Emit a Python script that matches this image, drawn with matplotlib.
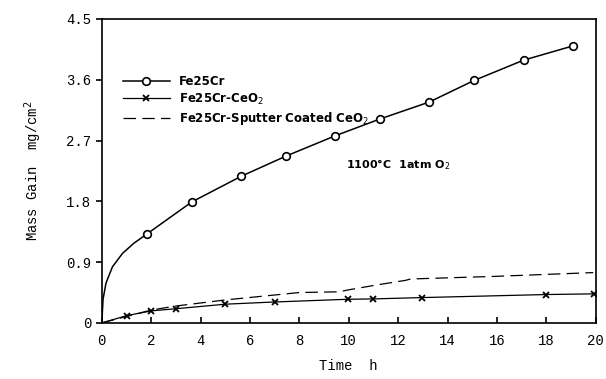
import numpy as np
import matplotlib.pyplot as plt

# Fe25Cr: early curve points (no markers) then measured points (circles)
fe_t = [0, 0.05, 0.17, 0.43, 0.84, 1.3, 1.84, 3.64, 5.64, 7.46, 9.45, 11.27, 13.26, 15.08, 17.08, 19.07]
fe_m = [0, 0.35, 0.59, 0.83, 1.03, 1.18, 1.32, 1.79, 2.17, 2.47, 2.77, 3.02, 3.27, 3.59, 3.89, 4.10]
fe_marks = list(range(6, len(fe_t)))

# Fe25Cr-CeO2
ce_t = [0, 1.01, 2.0, 3.0, 5.0, 7.0, 9.98, 10.97, 12.97, 17.99, 19.95]
ce_m = [0, 0.108, 0.178, 0.21, 0.277, 0.31, 0.35, 0.355, 0.375, 0.42, 0.43]

# Fe25Cr-Sputter coated CeO2
sp_t = [0, 2.0, 3.0, 5.0, 8.0, 9.6, 10.0, 11.1, 12.3, 12.5, 16.0, 19.9]
sp_m = [0, 0.19, 0.25, 0.34, 0.45, 0.46, 0.49, 0.56, 0.63, 0.65, 0.69, 0.745]

x_ticks = np.arange(0, 21, 2)
y_ticks = [0, 0.9, 1.8, 2.7, 3.6, 4.5]
y_labels = ['0', '0.9', '1.8', '2.7', '3.6', '4.5']

mono = 'Liberation Mono'
leg_font = {'family': 'DejaVu Sans Condensed', 'weight': 'bold', 'size': 8.5}

fig = plt.figure(figsize=(6.06, 3.79), dpi=100)
ax = fig.add_axes([0.168, 0.148, 0.815, 0.802])

ax.plot(fe_t, fe_m, color='black', lw=1.1, marker='o', ms=5.5, mfc='white',
        mec='black', mew=1.2, markevery=fe_marks, label='Fe25Cr')
ax.plot(ce_t, ce_m, color='black', lw=0.9, marker='x', ms=4.5, mew=1.3,
        markevery=list(range(1, len(ce_t))), label='Fe25Cr-CeO$_2$')
ax.plot(sp_t, sp_m, color='black', lw=0.9, dashes=(10, 5),
        label='Fe25Cr-Sputter Coated CeO$_2$')

ax.set_xlim(0, 20)
ax.set_ylim(0, 4.5)
ax.set_xticks(x_ticks)
ax.set_xticklabels([str(v) for v in x_ticks], family=mono, fontsize=10)
ax.set_yticks(y_ticks)
ax.set_yticklabels(y_labels, family=mono, fontsize=10)
ax.tick_params(axis='x', direction='in', length=4, width=1.2, pad=8)
ax.tick_params(axis='y', direction='out', length=4, width=1.2)
for s in ax.spines.values():
    s.set_linewidth(1.2)

ax.set_xlabel('Time  h', family=mono, fontsize=10, labelpad=8)
ax.set_ylabel('Mass Gain  mg/cm$^2$', family=mono, fontsize=10, labelpad=16)

ax.text(12.0, 2.34, '1100°C  1atm O$_2$', family='DejaVu Sans Condensed',
        weight='bold', fontsize=8, ha='center', va='center')

ax.legend(loc='upper left', bbox_to_anchor=(0.03, 0.835), frameon=False, prop=leg_font,
          handlelength=4.0, handletextpad=0.8, labelspacing=0.3, borderpad=0)

fig.savefig('out.png', dpi=100)
